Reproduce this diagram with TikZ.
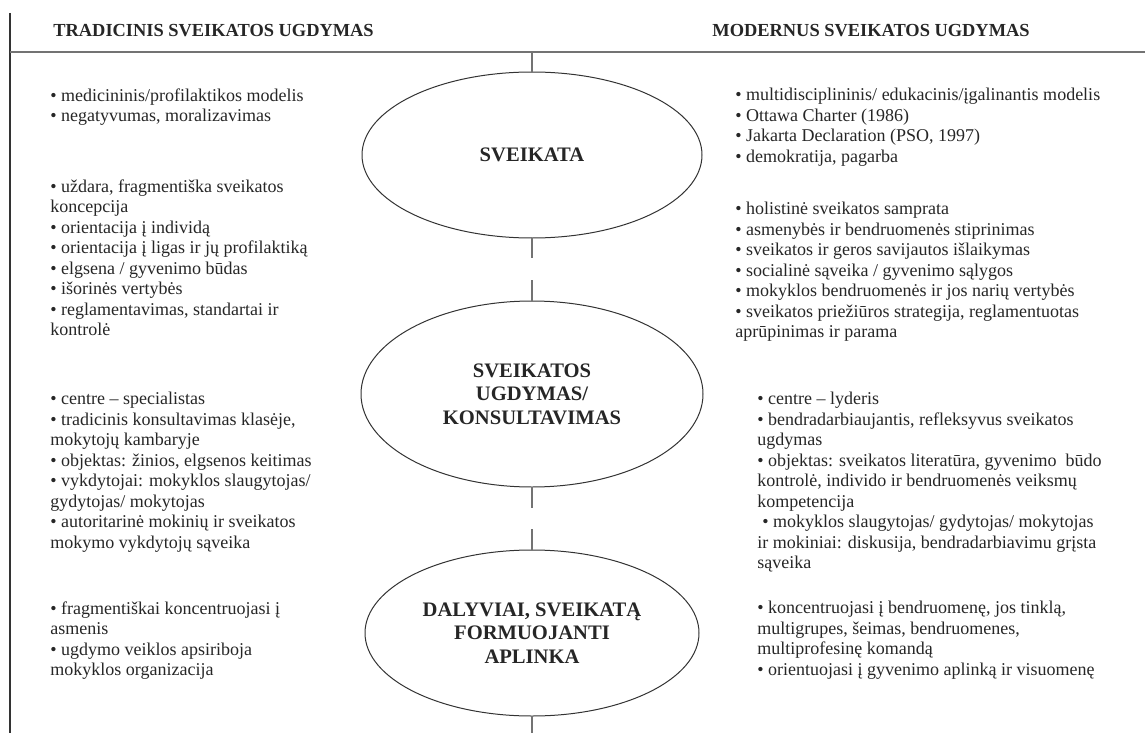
\documentclass[tikz,border=0pt]{standalone}
\usepackage{fontspec}
\setmainfont{Liberation Serif}
\usetikzlibrary{positioning,shapes.geometric}

\begin{document}
\begin{tikzpicture}[
  x=0.5pt, y=-0.5pt,
  font=\fontsize{9}{10.25}\selectfont,
  head/.style={font=\fontsize{9.2}{11}\selectfont\bfseries, anchor=west,
               inner sep=0pt, text=black!85},
  items/.style={align=left, anchor=north west, inner sep=0pt, text=black!85},
  stage/.style={ellipse, draw=black!80, line width=0.5pt, inner sep=0pt,
                outer sep=0pt, align=center, text=black!85,
                font=\fontsize{10.3}{11.8}\selectfont\bfseries},
  axis/.style={draw=black!55, line width=0.6pt},
]
\useasboundingbox (0,0) rectangle (1145,733);
\draw[draw=black!80, line width=0.6pt] (10,13) -- (10,733);
\draw[axis] (10,52) -- (1145,52);

\node[head] (trad) at (53,31) {TRADICINIS SVEIKATOS UGDYMAS};
\node[head] (mod) at (712,31) {MODERNUS SVEIKATOS UGDYMAS};

% stages in the middle
\node[stage, minimum width=170pt, minimum height=83pt] (e1) at (532,155)
  {SVEIKATA};
\node[stage, minimum width=171pt, minimum height=93pt] (e2) at (532,394)
  {SVEIKATOS\\UGDYMAS/\\KONSULTAVIMAS};
\node[stage, minimum width=167pt, minimum height=83pt] (e3) at (532,633)
  {DALYVIAI, SVEIKATĄ\\FORMUOJANTI\\APLINKA};

\coordinate (top) at (532,52);
\coordinate (bot) at (532,733);
\draw[axis] (top) -- (e1.north);
\draw[axis] (e1.south) -- ++(0,20);
\draw[axis] (e2.north) -- ++(0,-21);
\draw[axis] (e2.south) -- ++(0,21);
\draw[axis] (e3.north) -- ++(0,-21);
\draw[axis] (e3.south) -- (bot);

% traditional side
\node[items] (l1) at (50,88)
  {• medicininis/profilaktikos modelis\\
   • negatyvumas, moralizavimas};
\node[items] (l2) at (50,179)
  {• uždara, fragmentiška sveikatos\\
   koncepcija\\
   • orientacija į individą\\
   • orientacija į ligas ir jų profilaktiką\\
   • elgsena / gyvenimo būdas\\
   • išorinės vertybės\\
   • reglamentavimas, standartai ir\\
   kontrolė};
\node[items] (l3) at (50,392)
  {• centre -- specialistas\\
   • tradicinis konsultavimas klasėje,\\
   mokytojų kambaryje\\
   • objektas: žinios, elgsenos keitimas\\
   • vykdytojai: mokyklos slaugytojas/\\
   gydytojas/ mokytojas\\
   • autoritarinė mokinių ir sveikatos\\
   mokymo vykdytojų sąveika};
\node[items] (l4) at (50,601)
  {• fragmentiškai koncentruojasi į\\
   asmenis\\
   • ugdymo veiklos apsiriboja\\
   mokyklos organizacija};

% modern side
\node[items] (r1) at (735,88)
  {• multidisciplininis/ edukacinis/įgalinantis modelis\\
   • Ottawa Charter (1986)\\
   • Jakarta Declaration (PSO, 1997)\\
   • demokratija, pagarba};
\node[items] (r2) at (735,202)
  {• holistinė sveikatos samprata\\
   • asmenybės ir bendruomenės stiprinimas\\
   • sveikatos ir geros savijautos išlaikymas\\
   • socialinė sąveika / gyvenimo sąlygos\\
   • mokyklos bendruomenės ir jos narių vertybės\\
   • sveikatos priežiūros strategija, reglamentuotas\\
   aprūpinimas ir parama};
\node[items] (r3) at (757,392)
  {• centre -- lyderis\\
   • bendradarbiaujantis, refleksyvus sveikatos\\
   ugdymas\\
   • objektas: sveikatos literatūra, gyvenimo~ būdo\\
   kontrolė, individo ir bendruomenės veiksmų\\
   kompetencija\\
   \hspace{2.5pt}• mokyklos slaugytojas/ gydytojas/ mokytojas\\
   ir mokiniai: diskusija, bendradarbiavimu grįsta\\
   sąveika};
\node[items] (r4) at (757,601)
  {• koncentruojasi į bendruomenę, jos tinklą,\\
   multigrupes, šeimas, bendruomenes,\\
   multiprofesinę komandą\\
   • orientuojasi į gyvenimo aplinką ir visuomenę};
\end{tikzpicture}
\end{document}
